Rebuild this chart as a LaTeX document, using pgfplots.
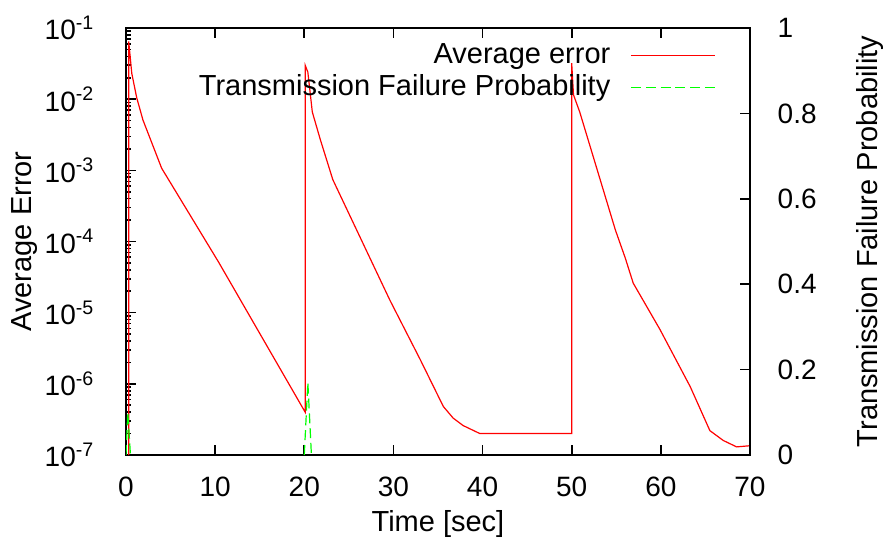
\documentclass[border=0pt]{standalone}
\usepackage{fontspec}
\setmainfont{Liberation Sans}
\usepackage{pgfplots}
\pgfplotsset{compat=1.18}
\definecolor{gpgreen}{rgb}{0,1,0}
\begin{document}
\fontsize{14}{16}\selectfont
\begin{tikzpicture}
\begin{axis}[
  name=ax,
  scale only axis, width=312pt, height=213.5pt,
  xmin=0, xmax=70, ymode=log, ymin=1e-7, ymax=1e-1,
  xtick={0,10,...,70},
  ytick={1e-7,1e-6,1e-5,1e-4,1e-3,1e-2,1e-1},
  yticklabels={10\textsuperscript{-7},10\textsuperscript{-6},10\textsuperscript{-5},10\textsuperscript{-4},10\textsuperscript{-3},10\textsuperscript{-2},10\textsuperscript{-1}},
  ytick pos=left, xtick pos=both,
  tick align=inside,
  major tick length=5pt, minor tick length=2.5pt,
  /pgf/number format/assume math mode=true,
  xlabel={Time [sec]}, ylabel={Average Error},
  xlabel style={at={(axis description cs:0.5,-0.1616)}, anchor=center},
  ylabel style={at={(axis description cs:-0.162,0.5)}, anchor=center},
  axis line style={line width=1pt},
  every tick/.style={black, line width=0.8pt},
  tick label style={font=\fontsize{14}{16}\selectfont},
  xticklabel style={yshift=-6pt},
  yticklabel style={xshift=-11pt},
  label style={font=\fontsize{14.5}{16}\selectfont},
]
\addplot[red, line width=0.6pt] coordinates {
(0.3,1e-7) (0.3,6.5e-2) (0.65,2.3e-2) (1.2,1.05e-2) (1.9,5.1e-3) (4.0,1.07e-3)
(10.4,5.1e-5) (20.1,4.0e-7)
(20.1,3.0e-2) (20.4,2.4e-2) (20.9,6.6e-3) (21.8,2.7e-3) (23.2,7.4e-4)
(29.6,1.5e-5) (33.0,2.2e-6) (35.6,4.8e-7) (36.7,3.3e-7) (37.8,2.6e-7) (39.7,2.0e-7)
(50.0,2.0e-7) (50.0,3.2e-2) (50.2,1.15e-2) (50.9,6.6e-3) (54.9,1.45e-4) (56.0,5.9e-5)
(56.9,2.6e-5) (59.9,5.8e-6) (63.3,9.1e-7) (65.5,2.2e-7) (67.0,1.6e-7) (68.5,1.3e-7) (70,1.35e-7)
};
\end{axis}
\begin{axis}[
  scale only axis, width=312pt, height=213.5pt,
  xmin=0, xmax=70, ymin=0, ymax=1,
  axis x line=none, axis y line*=right,
  ytick={0,0.2,...,1},
  tick align=inside, major tick length=5pt,
  /pgf/number format/assume math mode=true,
  ylabel={Transmission Failure Probability},
  ylabel style={at={(axis description cs:1.192,0.5)}, anchor=center},
  axis line style={line width=1pt},
  every tick/.style={black, line width=0.8pt},
  tick label style={font=\fontsize{14}{16}\selectfont},
  yticklabel style={xshift=9pt},
  label style={font=\fontsize{14.5}{16}\selectfont},
  legend plot pos=right,
  legend cell align=right,
  legend style={draw=none, fill=none, at={(0.9455,0.974)}, anchor=north east,
    inner sep=0pt, row sep=0pt, font=\fontsize{14.5}{16}\selectfont,
    nodes={inner xsep=0pt, inner ysep=1pt, text height=11pt, text depth=3pt}},
  legend image code/.code={\path (0pt,0pt); \draw[#1] (10pt,0pt) -- (52pt,0pt);},
]
\addlegendimage{red, line width=0.6pt}
\addlegendentry{Average error}
\addplot[gpgreen, dash pattern=on 5pt off 2.4pt, line width=0.6pt] coordinates {
(0,0) (0.2,0.10) (0.5,0)
};
\addlegendentry{Transmission Failure Probability}
\addplot[gpgreen, dash pattern=on 5pt off 2.4pt, line width=0.6pt, forget plot] coordinates {
(20.0,0) (20.4,0.17) (20.8,0)
};
\end{axis}
\pgfresetboundingbox
\path ([xshift=-63pt,yshift=-47.5pt]ax.south west) rectangle ([xshift=69.5pt,yshift=14pt]ax.north east);
\end{tikzpicture}
\end{document}
